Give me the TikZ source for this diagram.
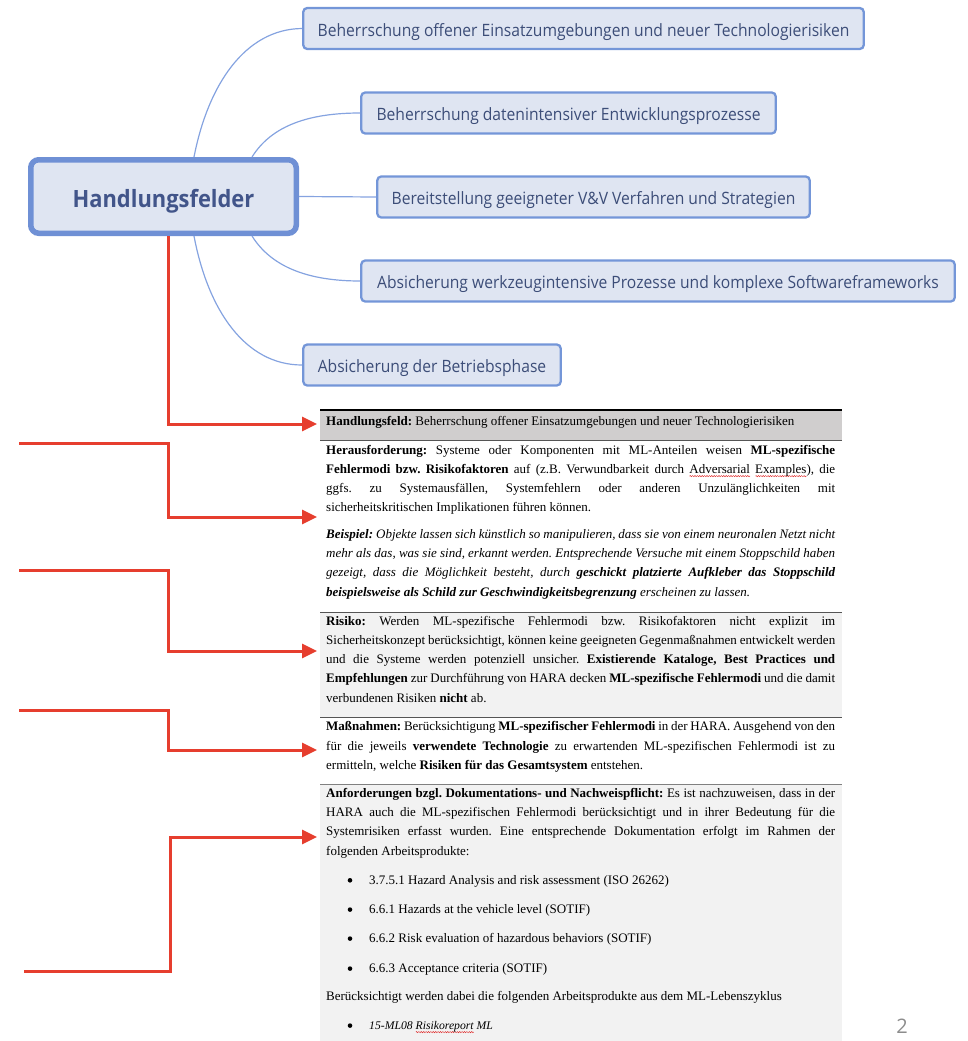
\documentclass[tikz,border=0pt]{standalone}
\usepackage{fontspec}
\setmainfont{Liberation Serif}
\newfontfamily\mapfont[FakeStretch=0.92]{Open Sans}
\newfontfamily\pagefont{Open Sans}
\usetikzlibrary{arrows.meta,decorations.pathmorphing}

\definecolor{mapfill}{HTML}{DFE5F2}
\definecolor{mapline}{HTML}{7496D8}
\definecolor{hubline}{HTML}{6F90D5}
\definecolor{maptext}{HTML}{3C4D78}
\definecolor{hubtext}{HTML}{42558A}
\definecolor{branchblue}{HTML}{85A3E0}
\definecolor{linkred}{HTML}{E63E2E}
\definecolor{headgray}{HTML}{D0CECE}
\definecolor{rowgray}{HTML}{F2F2F2}
\definecolor{rulegray}{HTML}{555555}
\definecolor{pagegray}{HTML}{8C8C8C}
\definecolor{spellred}{HTML}{E03030}

% wavy spell-check underline below a word
\newsavebox\spellbox
\newdimen\spellw
\newcommand\spellmark[1]{\sbox\spellbox{#1}\spellw=\wd\spellbox
  \rlap{\raisebox{-2.8pt}{\tikz[x=1pt,y=1pt,baseline=0pt]\draw[spellred,line width=0.45pt,decorate,
    decoration={zigzag,amplitude=0.6pt,segment length=2.4pt}] (0,0) -- (\spellw,0);}}\usebox\spellbox}

\hyphenpenalty=10000
\exhyphenpenalty=10000
\tolerance=10000
\frenchspacing

\tikzset{
  topic/.style={draw=mapline, line width=2.3pt, fill=mapfill, rounded corners=4pt,
    font=\mapfont\fontsize{17}{20}\selectfont, text=maptext, minimum height=41pt, inner sep=0pt,
    text height=15.4pt, text depth=0pt},
  hubbox/.style={draw=hubline, line width=5.5pt, fill=mapfill, rounded corners=8pt,
    font=\mapfont\bfseries\fontsize{23.8}{28}\selectfont, text=hubtext,
    minimum width=265.5pt, minimum height=73.5pt, inner sep=0pt,
    text height=21pt, text depth=0pt},
  branch/.style={draw=branchblue, line width=1.2pt},
  redlink/.style={draw=linkred, line width=3pt, -{Triangle[length=15pt,width=14pt]}},
  para/.style={anchor=base west, inner sep=0pt, text width=509pt, align=justify,
    font=\fontsize{13}{19.3}\selectfont},
  line/.style={anchor=base west, inner sep=0pt, font=\fontsize{13}{19.3}\selectfont},
  dot/.style={circle, fill=black, inner sep=0pt, minimum size=4.6pt},
}

\begin{document}
\begin{tikzpicture}[x=1pt,y=-1pt]
\useasboundingbox (0,0) rectangle (968,1041);

% ---------- mind map ----------
\node[hubbox] (hub) at (163.5,196.5) {Handlungsfelder};
\node[topic, minimum width=560.5pt] (c1) at (583.5,28.5) {Beherrschung offener Einsatzumgebungen und neuer Technologierisiken};
\node[topic, minimum width=414.5pt] (c2) at (568.5,113) {Beherrschung datenintensiver Entwicklungsprozesse};
\node[topic, minimum width=432.5pt] (c3) at (593.5,197) {Bereitstellung geeigneter V\&V Verfahren und Strategien};
\node[topic, minimum width=593.5pt] (c4) at (658,281) {Absicherung werkzeugintensive Prozesse und komplexe Softwareframeworks};
\node[topic, minimum width=257.5pt] (c5) at (432,365) {Absicherung der Betriebsphase};

\draw[branch] ([xshift=30.5pt]hub.north) .. controls (208,85) and (245,29) .. (c1.west);
\draw[branch] ([xshift=88.5pt]hub.north) .. controls (272,125) and (310,113) .. (c2.west);
\draw[branch] (hub.east) -- (c3.west);
\draw[branch] ([xshift=88.5pt]hub.south) .. controls (272,268) and (310,281) .. (c4.west);
\draw[branch] ([xshift=30.5pt]hub.south) .. controls (208,310) and (245,365) .. (c5.west);

% ---------- table ----------
\fill[headgray] (320,411) rectangle (842,440);
\fill[rowgray] (320,612) rectangle (842,718);
\fill[rowgray] (320,784) rectangle (842,1041);
\draw[black, line width=2pt] (320,410) -- (842,410);
\draw[rulegray, line width=1pt] (320,440) -- (842,440);
\draw[rulegray, line width=1pt] (320,612) -- (842,612);
\draw[rulegray, line width=1pt] (320,717.7) -- (842,717.7);
\draw[gray, line width=1.5pt] (320,784.3) -- (842,784.3);

\node[line] (feld) at (326,425.5) {\textbf{Handlungsfeld:} Beherrschung offener Einsatzumgebungen und neuer Technologierisiken};

\node[para] (herausf) at (326,454) {\textbf{Herausforderung:} Systeme oder Komponenten mit ML-Anteilen weisen \textbf{ML-spezifische}\linebreak
\textbf{Fehlermodi bzw. Risikofaktoren} auf (z.B. Verwundbarkeit durch \spellmark{Adversarial} \spellmark{Examples}), die\linebreak
ggfs. zu Systemausfällen, Systemfehlern oder anderen Unzulänglichkeiten mit\linebreak
sicherheitskritischen Implikationen führen können.};

\node[para] (beispiel) at (326,538.3) {\itshape\textbf{Beispiel:} Objekte lassen sich künstlich so manipulieren, dass sie von einem neuronalen Netzt nicht\linebreak
mehr als das, was sie sind, erkannt werden. Entsprechende Versuche mit einem Stoppschild haben\linebreak
gezeigt, dass die Möglichkeit besteht, durch \textbf{geschickt platzierte Aufkleber das Stoppschild}\linebreak
\textbf{beispielsweise als Schild zur Geschwindigkeitsbegrenzung} erscheinen zu lassen.};

\node[para] (risiko) at (326,625) {\textbf{Risiko:} Werden ML-spezifische Fehlermodi bzw. Risikofaktoren nicht explizit im\linebreak
Sicherheitskonzept berücksichtigt, können keine geeigneten Gegenmaßnahmen entwickelt werden\linebreak
und die Systeme werden potenziell unsicher. \textbf{Existierende Kataloge, Best Practices und}\linebreak
\textbf{Empfehlungen} zur Durchführung von HARA decken \textbf{ML-spezifische Fehlermodi} und die damit\linebreak
verbundenen Risiken \textbf{nicht} ab.};

\node[para] (massn) at (326,730.7) {\textbf{Maßnahmen:} Berücksichtigung \textbf{ML-spezifischer Fehlermodi} in der HARA. Ausgehend von den\linebreak
für die jeweils \textbf{verwendete Technologie} zu erwartenden ML-spezifischen Fehlermodi ist zu\linebreak
ermitteln, welche \textbf{Risiken für das Gesamtsystem} entstehen.};

\node[para] (anford) at (326,797.3) {\textbf{Anforderungen bzgl. Dokumentations- und Nachweispflicht:} Es ist nachzuweisen, dass in der\linebreak
HARA auch die ML-spezifischen Fehlermodi berücksichtigt und in ihrer Bedeutung für die\linebreak
Systemrisiken erfasst wurden. Eine entsprechende Dokumentation erfolgt im Rahmen der\linebreak
folgenden Arbeitsprodukte:};

\node[dot] (d1) at (350,880.3) {};
\node[line] (i1) at (369,884) {3.7.5.1 Hazard Analysis and risk assessment (ISO 26262)};
\node[dot] (d2) at (350,909.6) {};
\node[line] (i2) at (369,913.3) {6.6.1 Hazards at the vehicle level (SOTIF)};
\node[dot] (d3) at (350,938.6) {};
\node[line] (i3) at (369,942.3) {6.6.2 Risk evaluation of hazardous behaviors (SOTIF)};
\node[dot] (d4) at (350,968.6) {};
\node[line] (i4) at (369,972.3) {6.6.3 Acceptance criteria (SOTIF)};
\node[line] (lebens) at (326,1000) {Berücksichtigt werden dabei die folgenden Arbeitsprodukte aus dem ML-Lebenszyklus};
\node[dot] (d5) at (350,1025.6) {};
\node[line, font=\itshape\fontsize{11.7}{14}\selectfont] (i5) at (369,1029.3) {15-ML08 \spellmark{Risikoreport} ML};

% ---------- red links ----------
\coordinate (spine) at (168,0);
\coordinate (spineb) at (170,0);
\coordinate (tip1) at (317,424);
\coordinate (tip2) at (317,517);
\coordinate (tip3) at (317,651);
\coordinate (tip4) at (317,750);
\coordinate (tip5) at (317,837);
\coordinate (free2) at (19,443);
\coordinate (free3) at (19,570);
\coordinate (free4) at (19,710);
\coordinate (free5) at (24,971);

\draw[redlink] ([xshift=4.5pt]hub.south) |- (tip1);
\draw[redlink] (free2) -- (free2 -| spine) |- (tip2);
\draw[redlink] (free3) -- (free3 -| spine) |- (tip3);
\draw[redlink] (free4) -- (free4 -| spine) |- (tip4);
\draw[redlink] (free5) -- (free5 -| spineb) |- (tip5);

% page number
\node[font=\pagefont\fontsize{20}{24}\selectfont, text=pagegray] (pageno) at (902,1026) {2};
\end{tikzpicture}
\end{document}
